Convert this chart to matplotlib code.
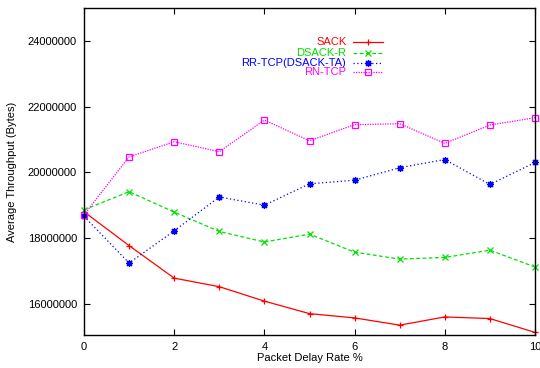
import matplotlib
matplotlib.use('Agg')
import matplotlib.pyplot as plt
from matplotlib.lines import Line2D

plt.rcParams['font.family'] = ['Liberation Sans', 'DejaVu Sans']
plt.rcParams['font.size'] = 8

# packet delay rate (%)
delay_rate = [0, 1, 2, 3, 4, 5, 6, 7, 8, 9, 10]

# average throughput (bytes)
sack = [18800000, 17770000, 16780000, 16520000, 16080000, 15700000,
        15570000, 15350000, 15600000, 15550000, 15130000]
dsack_r = [18860000, 19410000, 18790000, 18200000, 17880000, 18120000,
           17570000, 17360000, 17410000, 17630000, 17120000]
rr_tcp = [18660000, 17240000, 18220000, 19250000, 19000000, 19650000,
          19760000, 20140000, 20390000, 19630000, 20300000]
rn_tcp = [18710000, 20470000, 20930000, 20630000, 21590000, 20960000,
          21450000, 21480000, 20880000, 21440000, 21660000]

labels = ['SACK', 'DSACK-R', 'RR-TCP(DSACK-TA)', 'RN-TCP']
x_ticks = [0, 2, 4, 6, 8, 10]
y_ticks = [16000000, 18000000, 20000000, 22000000, 24000000]

styles = [
    dict(color='#ff0000', linestyle='-', marker='+', ms=5),
    dict(color='#00e000', linestyle=(0, (3, 2)), marker='x', ms=4),
    dict(color='#0000ff', linestyle=(0, (1, 2)), marker=(8, 2, 0), ms=5),
    dict(color='#ff00ff', linestyle=(0, (1, 1)), marker='s', ms=4, mfc='none'),
]

fig = plt.figure(figsize=(5.4, 3.68), dpi=100)
ax = fig.add_axes([84 / 540, 33 / 368, 451 / 540, 327 / 368])

for series, st in zip([sack, dsack_r, rr_tcp, rn_tcp], styles):
    ax.plot(delay_rate, series, lw=0.9, mew=0.9, clip_on=False, **st)

ax.set_xlim(0, 10)
ax.set_ylim(15050000, 25000000)
ax.set_xticks(x_ticks)
ax.set_xticklabels([str(t) for t in x_ticks])
ax.set_yticks(y_ticks)
ax.set_yticklabels([str(t) for t in y_ticks])
ax.tick_params(direction='in', top=True, right=True, length=4, width=0.8, pad=5)
for sp in ax.spines.values():
    sp.set_linewidth(1.0)

ax.set_xlabel('Packet Delay Rate %', labelpad=1)
ax.set_ylabel('Average Throughput (Bytes)', labelpad=8)

# gnuplot-style key: right-aligned coloured labels, samples on the right
rows = [0.897, 0.862, 0.833, 0.803]
for lab, st, yy in zip(labels, styles, rows):
    ax.text(0.5815, yy, lab, transform=ax.transAxes, ha='right', va='center',
            color=st['color'])
    ax.add_line(Line2D([0.597, 0.663], [yy, yy], transform=ax.transAxes,
                       color=st['color'], linestyle=st['linestyle'], lw=0.9))
    ax.add_line(Line2D([0.63], [yy], transform=ax.transAxes, color=st['color'],
                       marker=st['marker'], ms=st['ms'], mew=0.9,
                       mfc=st.get('mfc', st['color']), linestyle='none'))

fig.savefig('out.png', dpi=100)
